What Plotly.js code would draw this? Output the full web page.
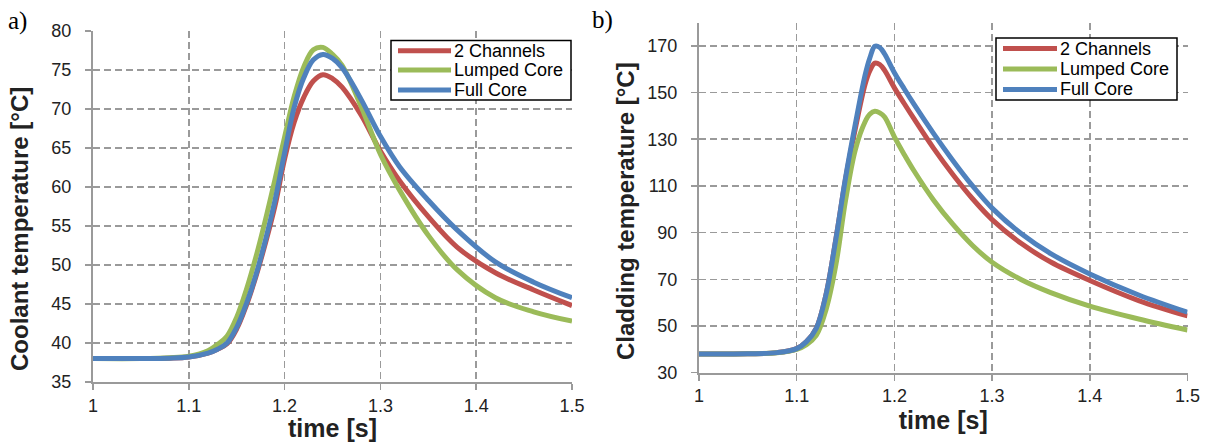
<!DOCTYPE html>
<html>
<head>
<meta charset="utf-8">
<script src="https://cdn.plot.ly/plotly-3.0.1.min.js"></script>
<style>html,body{margin:0;padding:0;background:#fff;}#chart{width:1209px;height:442px;}</style>
</head>
<body>
<div id="chart"></div>
<script>
// ---- Data: (a) coolant temperature ----
const timeA = [1.0, 1.05, 1.08, 1.1, 1.12, 1.13, 1.14, 1.15, 1.16, 1.17, 1.18, 1.19, 1.2, 1.21, 1.22, 1.23, 1.24, 1.25, 1.26, 1.28, 1.3, 1.32, 1.35, 1.38, 1.42, 1.46, 1.5];
const coolant2Ch  = [38.0, 38.0, 38.05, 38.2, 38.7, 39.2, 39.9, 41.8, 44.8, 48.5, 52.8, 57.6, 63.6, 68.3, 71.5, 73.6, 74.4, 73.9, 72.8, 69.2, 64.6, 60.8, 56.2, 52.3, 49.0, 46.8, 44.8];
const coolantLump = [38.0, 38.0, 38.1, 38.3, 39.0, 39.8, 40.9, 43.3, 46.8, 51.0, 55.8, 61.0, 66.4, 71.6, 75.4, 77.6, 77.9, 77.0, 75.6, 70.3, 64.2, 59.6, 53.8, 49.4, 45.8, 44.0, 42.8];
const coolantFull = [38.0, 38.0, 38.05, 38.2, 38.7, 39.2, 40.0, 42.0, 45.0, 48.7, 53.2, 58.3, 64.4, 70.2, 74.0, 76.3, 77.0, 76.5, 75.3, 71.2, 66.5, 62.6, 58.3, 54.5, 50.4, 47.8, 45.8];

// ---- Data: (b) cladding temperature ----
const timeB = [1.0, 1.05, 1.08, 1.1, 1.11, 1.12, 1.13, 1.14, 1.15, 1.16, 1.17, 1.175, 1.18, 1.185, 1.19, 1.2, 1.21, 1.22, 1.24, 1.26, 1.28, 1.3, 1.33, 1.36, 1.4, 1.45, 1.5];
const clad2Ch  = [38.0, 38.1, 38.6, 40.3, 43.3, 49.0, 63.5, 87.0, 113.0, 134.5, 153.5, 159.5, 162.6, 162.0, 159.5, 152.0, 145.3, 138.8, 126.2, 114.8, 104.5, 95.6, 85.3, 77.4, 69.5, 60.9, 54.3];
const cladLump = [38.0, 38.1, 38.5, 40.0, 42.0, 46.0, 57.0, 76.0, 103.8, 125.5, 137.5, 140.8, 142.0, 141.3, 139.5, 131.0, 123.5, 116.5, 104.0, 93.5, 84.5, 77.3, 69.8, 64.3, 58.5, 53.0, 48.3];
const cladFull = [38.0, 38.1, 38.6, 40.3, 43.3, 49.0, 63.5, 87.0, 113.5, 136.5, 157.5, 165.0, 169.8, 169.3, 166.5, 158.5, 151.6, 145.0, 132.5, 120.8, 110.0, 100.5, 89.5, 81.0, 72.3, 63.3, 55.9];

const seriesNames = ['2 Channels', 'Lumped Core', 'Full Core'];
const seriesColors = ['#C0504D', '#9BBB59', '#4F81BD'];
const xTicks = [1, 1.1, 1.2, 1.3, 1.4, 1.5];
const xTickText = ['1', '1.1', '1.2', '1.3', '1.4', '1.5'];
const yTicksA = [35, 40, 45, 50, 55, 60, 65, 70, 75, 80];
const yTicksB = [30, 50, 70, 90, 110, 130, 150, 170];
const yTitleA = 'Coolant temperature [°C]';
const yTitleB = 'Cladding temperature [°C]';
const xTitle = 'time [s]';

const FONT = 'Liberation Sans, Arial, sans-serif';
const W = 1209, H = 442;
const px = v => v / W;          // horizontal pixel -> paper
const py = v => 1 - v / H;      // vertical pixel (from top) -> paper

const traces = [];
[coolant2Ch, coolantLump, coolantFull].forEach((ys, i) => traces.push({
  x: timeA, y: ys, xaxis: 'x', yaxis: 'y', type: 'scatter', mode: 'lines',
  name: seriesNames[i], showlegend: false,
  line: {color: seriesColors[i], width: 5, shape: 'spline', smoothing: 1}
}));
[clad2Ch, cladLump, cladFull].forEach((ys, i) => traces.push({
  x: timeB, y: ys, xaxis: 'x2', yaxis: 'y2', type: 'scatter', mode: 'lines',
  name: seriesNames[i], showlegend: false,
  line: {color: seriesColors[i], width: 5, shape: 'spline', smoothing: 1}
}));

function xAxis(domain, anchor) {
  return {
    domain: domain, anchor: anchor, range: [1, 1.5], tickvals: xTicks, ticktext: xTickText,
    showline: true, linecolor: '#9a9a9a', linewidth: 2,
    ticks: 'outside', ticklen: 6, tickwidth: 1.5, tickcolor: '#9a9a9a',
    showgrid: true, gridcolor: '#9a9a9a', gridwidth: 1.5, griddash: '7px,4px',
    zeroline: false, tickfont: {family: FONT, size: 18, color: '#222'},
    title: {text: '<b>' + xTitle + '</b>', font: {family: FONT, size: 25, color: '#222'}, standoff: 0}
  };
}
function yAxis(domain, anchor, range, ticks) {
  return {
    domain: domain, anchor: anchor, range: range, tickvals: ticks,
    showline: true, linecolor: '#9a9a9a', linewidth: 2,
    ticks: 'outside', ticklen: 6, tickwidth: 1.5, tickcolor: '#9a9a9a',
    showgrid: true, gridcolor: '#9a9a9a', gridwidth: 1.5, griddash: '7px,4px',
    zeroline: false, tickfont: {family: FONT, size: 18, color: '#222'},
    ticklabelstandoff: 10
  };
}

// Legend boxes (drawn as shapes + text so the compact spacing matches)
const shapes = [];
const annotations = [];
function addLegend(x0, x1, y0, y1, rows, lineX0, lineX1, textX) {
  shapes.push({type: 'rect', xref: 'paper', yref: 'paper', layer: 'above',
    x0: px(x0), x1: px(x1), y0: py(y1), y1: py(y0),
    line: {color: '#000', width: 1.5}, fillcolor: '#fff'});
  seriesNames.forEach((n, i) => {
    shapes.push({type: 'line', xref: 'paper', yref: 'paper', layer: 'above',
      x0: px(lineX0), x1: px(lineX1), y0: py(rows[i]), y1: py(rows[i]),
      line: {color: seriesColors[i], width: 5}});
    annotations.push({text: n, xref: 'paper', yref: 'paper', x: px(textX), y: py(rows[i]),
      xanchor: 'left', yanchor: 'middle', showarrow: false,
      font: {family: FONT, size: 18, color: '#000'}});
  });
}
addLegend(391, 571, 40.5, 100, [50.7, 70, 90], 398, 451, 452);
addLegend(996, 1177, 38, 100, [48.5, 69, 89.5], 1003, 1057, 1058);

// Y axis titles (as rotated text, centred where the reference puts them)
annotations.push({text: '<b>' + yTitleA + '</b>', xref: 'paper', yref: 'paper', x: px(19), y: py(229),
  xanchor: 'center', yanchor: 'middle', textangle: -90, showarrow: false,
  font: {family: FONT, size: 24, color: '#222'}});
annotations.push({text: '<b>' + yTitleB + '</b>', xref: 'paper', yref: 'paper', x: px(625), y: py(211),
  xanchor: 'center', yanchor: 'middle', textangle: -90, showarrow: false,
  font: {family: FONT, size: 24, color: '#222'}});
// Panel labels
annotations.push({text: 'a)', xref: 'paper', yref: 'paper', x: px(6), y: py(21), xanchor: 'left', yanchor: 'middle',
  showarrow: false, font: {family: 'Liberation Serif, Times New Roman, serif', size: 25, color: '#000'}});
annotations.push({text: 'b)', xref: 'paper', yref: 'paper', x: px(590), y: py(20), xanchor: 'left', yanchor: 'middle',
  showarrow: false, font: {family: 'Liberation Serif, Times New Roman, serif', size: 25, color: '#000'}});

const layout = {
  width: W, height: H, margin: {l: 0, r: 0, t: 0, b: 0},
  paper_bgcolor: '#fff', plot_bgcolor: '#fff', showlegend: false,
  xaxis: xAxis([px(93), px(572)], 'y'),
  yaxis: yAxis([py(382), py(31)], 'x', [35, 80], yTicksA),
  xaxis2: xAxis([px(699), px(1187.5)], 'y2'),
  yaxis2: yAxis([py(372.7), py(22.5)], 'x2', [30, 180], yTicksB),
  shapes: shapes,
  annotations: annotations
};

Plotly.newPlot('chart', traces, layout, {displayModeBar: false, staticPlot: true});
</script>
</body>
</html>
